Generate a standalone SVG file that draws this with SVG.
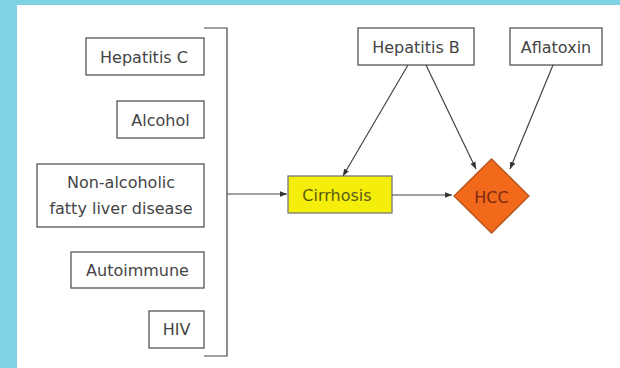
<svg xmlns="http://www.w3.org/2000/svg" width="620" height="368" viewBox="0 0 620 368">
<style>
.box{fill:#fff;stroke:#555;stroke-width:1.3}
.t{font-family:"DejaVu Sans",Verdana,sans-serif;font-size:16px;fill:#444;text-anchor:middle}
.c{stroke:#444;stroke-width:1.2;fill:none}
</style>
<defs>
<marker id="ah" viewBox="0 0 10 10" refX="10" refY="5" markerWidth="7" markerHeight="7" orient="auto" markerUnits="userSpaceOnUse"><path d="M0,1 L10,5 L0,9 Z" fill="#333"/></marker>
</defs>
<rect x="0" y="0" width="620" height="368" fill="#7fd2e2"/>
<rect x="17" y="5" width="603" height="363" fill="#fff"/>
<g id="hepc"><rect class="box" x="86" y="38" width="118" height="37"/><text class="t" x="144" y="63">Hepatitis C</text></g>
<g id="alcohol"><rect class="box" x="117" y="101" width="87" height="37"/><text class="t" x="160.5" y="126">Alcohol</text></g>
<g id="nafld"><rect class="box" x="37" y="164" width="167" height="63"/><text class="t" x="121" y="188">Non-alcoholic</text><text class="t" x="121" y="214">fatty liver disease</text></g>
<g id="autoimmune"><rect class="box" x="71" y="252" width="133" height="36"/><text class="t" x="137.5" y="276">Autoimmune</text></g>
<g id="hiv"><rect class="box" x="149" y="311" width="55" height="37"/><text class="t" x="176.5" y="335">HIV</text></g>
<g id="hepb"><rect class="box" x="358" y="28" width="116" height="37"/><text class="t" x="416" y="52.5">Hepatitis B</text></g>
<g id="aflatoxin"><rect class="box" x="510" y="28" width="92" height="37"/><text class="t" x="556" y="52.5">Aflatoxin</text></g>
<g id="cirrhosis"><rect x="288" y="176" width="104" height="37" fill="#f5ee0a" stroke="#777" stroke-width="1.3"/><text class="t" x="337" y="200.5" style="fill:#5a5a10">Cirrhosis</text></g>
<g id="hcc"><polygon points="491.5,159 529,196 491.5,233 454,196" fill="#f2691c" stroke="#b5541a" stroke-width="1.3"/><text class="t" x="491.5" y="202.5" style="fill:#7a2a10">HCC</text></g>
<g id="connectors">
<path class="c" d="M204,28 H227 V356 H204"/>
<path class="c" d="M227,194 H287" marker-end="url(#ah)"/>
<path class="c" d="M392,195 H452" marker-end="url(#ah)"/>
<path class="c" d="M408,65 L343,176" marker-end="url(#ah)"/>
<path class="c" d="M426,65 L476,169" marker-end="url(#ah)"/>
<path class="c" d="M553,65 L510,169" marker-end="url(#ah)"/>
</g>
</svg>
